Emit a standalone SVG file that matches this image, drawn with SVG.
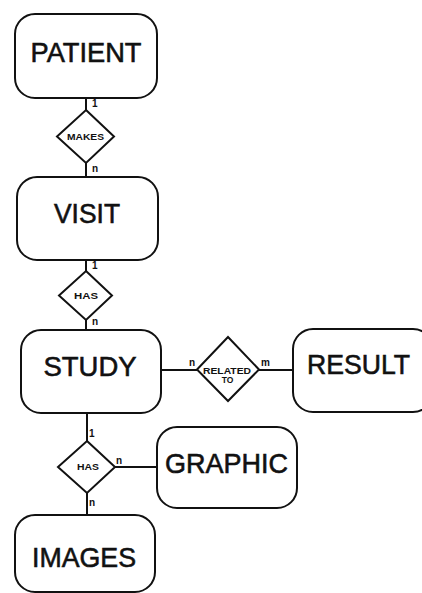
<svg xmlns="http://www.w3.org/2000/svg" width="422" height="593" viewBox="0 0 422 593">
<style>
.box{fill:#fff;stroke:#111;stroke-width:2}
.rel{fill:#fff;stroke:#111;stroke-width:2}
.ln{stroke:#111;stroke-width:2;fill:none}
.big{font-family:"Liberation Sans",Arial,sans-serif;font-size:28.5px;fill:#111;stroke:#111;stroke-width:0.6;text-anchor:middle}
.sm{font-family:"Liberation Sans",Arial,sans-serif;font-size:8.5px;font-weight:bold;fill:#111;text-anchor:middle}
.card{font-family:"Liberation Sans",Arial,sans-serif;font-size:10px;font-weight:bold;fill:#111}
</style>
<rect width="422" height="593" fill="#fff"/>
<g id="connectors">
<line class="ln" x1="86" y1="98" x2="86" y2="110"/>
<line class="ln" x1="86" y1="163" x2="86" y2="177"/>
<line class="ln" x1="86" y1="260" x2="86" y2="271"/>
<line class="ln" x1="86" y1="320" x2="86" y2="330"/>
<line class="ln" x1="161" y1="370" x2="197" y2="370"/>
<line class="ln" x1="259" y1="370" x2="293" y2="370"/>
<line class="ln" x1="87" y1="413" x2="87" y2="441"/>
<line class="ln" x1="115" y1="467" x2="157" y2="467"/>
<line class="ln" x1="87" y1="493" x2="87" y2="515"/>
<text class="card" x="92" y="107">1</text>
<text class="card" x="92" y="172">n</text>
<text class="card" x="92" y="269">1</text>
<text class="card" x="92" y="325">n</text>
<text class="card" x="189" y="366">n</text>
<text class="card" x="261" y="366">m</text>
<text class="card" x="89" y="437">1</text>
<text class="card" x="116" y="464">n</text>
<text class="card" x="89" y="506">n</text>
</g>
<g id="patient">
<rect class="box" x="15" y="14" width="142" height="84" rx="20"/>
<text class="big" x="86" y="62" textLength="111" lengthAdjust="spacingAndGlyphs">PATIENT</text>
</g>
<g id="makes">
<polygon class="rel" points="86,110 114,136.5 86,163 57,136.5"/>
<text class="sm" x="85.5" y="140" textLength="37" lengthAdjust="spacingAndGlyphs">MAKES</text>
</g>
<g id="visit">
<rect class="box" x="17" y="177" width="141" height="83" rx="20"/>
<text class="big" x="87" y="223" textLength="66" lengthAdjust="spacingAndGlyphs">VISIT</text>
</g>
<g id="has1">
<polygon class="rel" points="86,271 112,295.5 86,320 59,295.5"/>
<text class="sm" x="86" y="298.5" textLength="24" lengthAdjust="spacingAndGlyphs">HAS</text>
</g>
<g id="study">
<rect class="box" x="21" y="330" width="140" height="83" rx="20"/>
<text class="big" x="90" y="376" textLength="93" lengthAdjust="spacingAndGlyphs">STUDY</text>
</g>
<g id="relatedto">
<polygon class="rel" points="228,337 259,369.5 228,401 197,369.5"/>
<text class="sm" x="227" y="374" textLength="48" lengthAdjust="spacingAndGlyphs">RELATED</text>
<text class="sm" x="227.5" y="383">TO</text>
</g>
<g id="result">
<rect class="box" x="293" y="329" width="140" height="83" rx="20"/>
<text class="big" x="358.5" y="374" textLength="103" lengthAdjust="spacingAndGlyphs">RESULT</text>
</g>
<g id="has2">
<polygon class="rel" points="87,441 115,467 87,493 58,467"/>
<text class="sm" x="88" y="470" textLength="22" lengthAdjust="spacingAndGlyphs">HAS</text>
</g>
<g id="graphic">
<rect class="box" x="157" y="427" width="140" height="81" rx="20"/>
<text class="big" x="226.5" y="473" textLength="123" lengthAdjust="spacingAndGlyphs">GRAPHIC</text>
</g>
<g id="images">
<rect class="box" x="15" y="515" width="140" height="77" rx="20"/>
<text class="big" x="84" y="567" textLength="104" lengthAdjust="spacingAndGlyphs">IMAGES</text>
</g>
</svg>
